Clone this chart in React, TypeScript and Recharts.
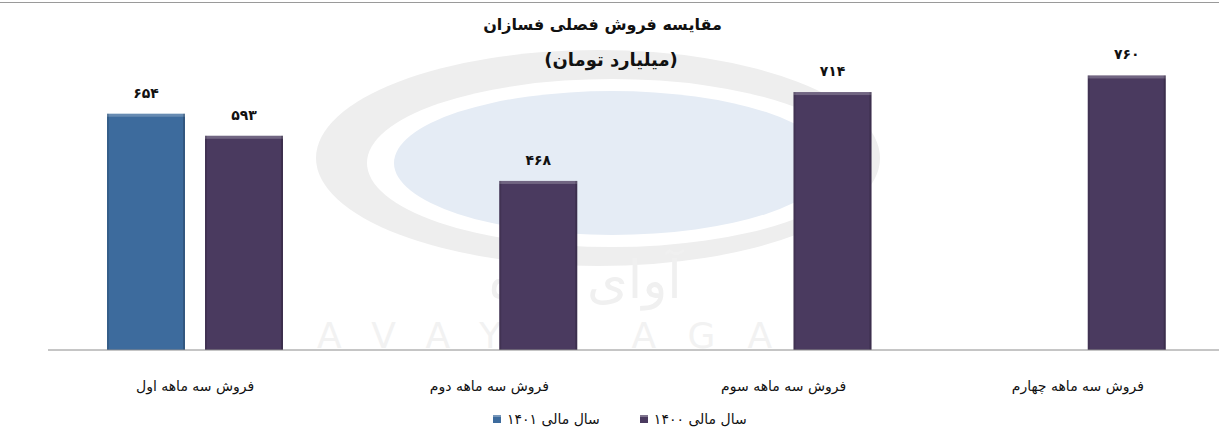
import { BarChart, Bar, XAxis, YAxis, LabelList } from 'recharts';

const categories = ['فروش سه ماهه اول', 'فروش سه ماهه دوم', 'فروش سه ماهه سوم', 'فروش سه ماهه چهارم'];
const sales1401 = [654, null, null, null];
const sales1400 = [593, 468, 714, 760];
const seriesNames = ['سال مالی ۱۴۰۱', 'سال مالی ۱۴۰۰'];
const colors = ['#3d6b9d', '#4a3a5f'];

const data = categories.map((name, i) => ({ name, y1401: sales1401[i], y1400: sales1400[i] }));

const FONT = '"DejaVu Sans", sans-serif';

const toFa = (v: number | string) =>
  String(v).replace(/[0-9]/g, (d) => '۰۱۲۳۴۵۶۷۸۹'[Number(d)]);

function BevelBar(props: any) {
  const { x, y, width, height, fill } = props;
  if (!height || height <= 0) return null;
  return (
    <g>
      <rect x={x} y={y} width={width} height={height} fill={fill} />
      <rect x={x} y={y} width={width} height={3} fill="#ffffff" opacity={0.22} />
      <rect x={x} y={y} width={2} height={height} fill="#000000" opacity={0.12} />
      <rect x={x + width - 2} y={y} width={2} height={height} fill="#000000" opacity={0.18} />
    </g>
  );
}

function CatTick(props: any) {
  const { x, y, payload } = props;
  return (
    <text x={x} y={y + 33} textAnchor="middle" fontFamily={FONT} fontSize={14} fill="#111">
      {payload.value}
    </text>
  );
}

function ValueLabel(props: any) {
  const { x, y, width, value } = props;
  if (value == null) return null;
  return (
    <text x={x + width / 2} y={y - 16} textAnchor="middle" fontFamily={FONT} fontWeight="bold" fontSize={14} fill="#111">
      {toFa(value)}
    </text>
  );
}

// faint logo watermark behind the bars
function Watermark() {
  return (
    <svg width={1219} height={443} style={{ position: 'absolute', left: 0, top: 0 }}>
      <ellipse cx={598} cy={158} rx={282} ry={108} fill="#eeeeee" />
      <ellipse cx={612} cy={163} rx={245} ry={84} fill="#ffffff" />
      <ellipse cx={612} cy={163} rx={218} ry={72} fill="#e5ecf5" />
      <text x={585} y={298} textAnchor="middle" fontFamily={FONT} fontSize={52} fill="#f0f0f0">
        آوای آگاه
      </text>
      <text x={590} y={348} textAnchor="middle" fontFamily={FONT} fontSize={36} fill="#f2f2f2" letterSpacing={32}>
        AVAYE AGAH
      </text>
    </svg>
  );
}

function LegendItem({ color, label }: { color: string; label: string }) {
  return (
    <span style={{ display: 'inline-flex', alignItems: 'center', gap: 6 }}>
      <span style={{ width: 8, height: 8, background: color, display: 'inline-block', boxShadow: 'inset 0 2px 0 rgba(255,255,255,0.3)' }} />
      <span>{label}</span>
    </span>
  );
}

export default function App() {
  return (
    <div style={{ position: 'absolute', left: 0, top: 0, width: 1219, height: 443, overflow: 'hidden', background: '#fff', fontFamily: FONT }}>
      <div style={{ position: 'absolute', left: 0, top: 2, width: 1219, height: 1, background: '#9a9a9a' }} />
      <Watermark />
      <div style={{ position: 'absolute', left: 0, top: 0 }}>
        <BarChart
          width={1230}
          height={443}
          data={data}
          margin={{ top: 61, right: 5, left: 48, bottom: 53 }}
          barCategoryGap={59}
          barGap={20}
        >
          <XAxis dataKey="name" axisLine={{ stroke: '#8c8c8c' }} tickLine={false} height={40} tick={<CatTick />} interval={0} />
          <YAxis hide domain={[0, 800]} />
          <Bar dataKey="y1401" name={seriesNames[0]} fill={colors[0]} barSize={78} shape={<BevelBar />} isAnimationActive={false}>
            <LabelList dataKey="y1401" content={<ValueLabel />} />
          </Bar>
          <Bar dataKey="y1400" name={seriesNames[1]} fill={colors[1]} barSize={78} shape={<BevelBar />} isAnimationActive={false}>
            <LabelList dataKey="y1400" content={<ValueLabel />} />
          </Bar>
        </BarChart>
      </div>
      <div style={{ position: 'absolute', left: 0, width: 1205, top: 15, textAlign: 'center', fontWeight: 'bold', fontSize: 16, color: '#111', direction: 'rtl' }}>
        مقایسه فروش فصلی فسازان
      </div>
      <div style={{ position: 'absolute', left: 0, width: 1222, top: 49, textAlign: 'center', fontWeight: 'bold', fontSize: 18, color: '#111', direction: 'rtl' }}>
        (میلیارد تومان)
      </div>
      <div style={{ position: 'absolute', left: 493, top: 411, display: 'flex', gap: 40, fontSize: 14, color: '#111' }}>
        <LegendItem color={colors[0]} label={seriesNames[0]} />
        <LegendItem color={colors[1]} label={seriesNames[1]} />
      </div>
    </div>
  );
}
